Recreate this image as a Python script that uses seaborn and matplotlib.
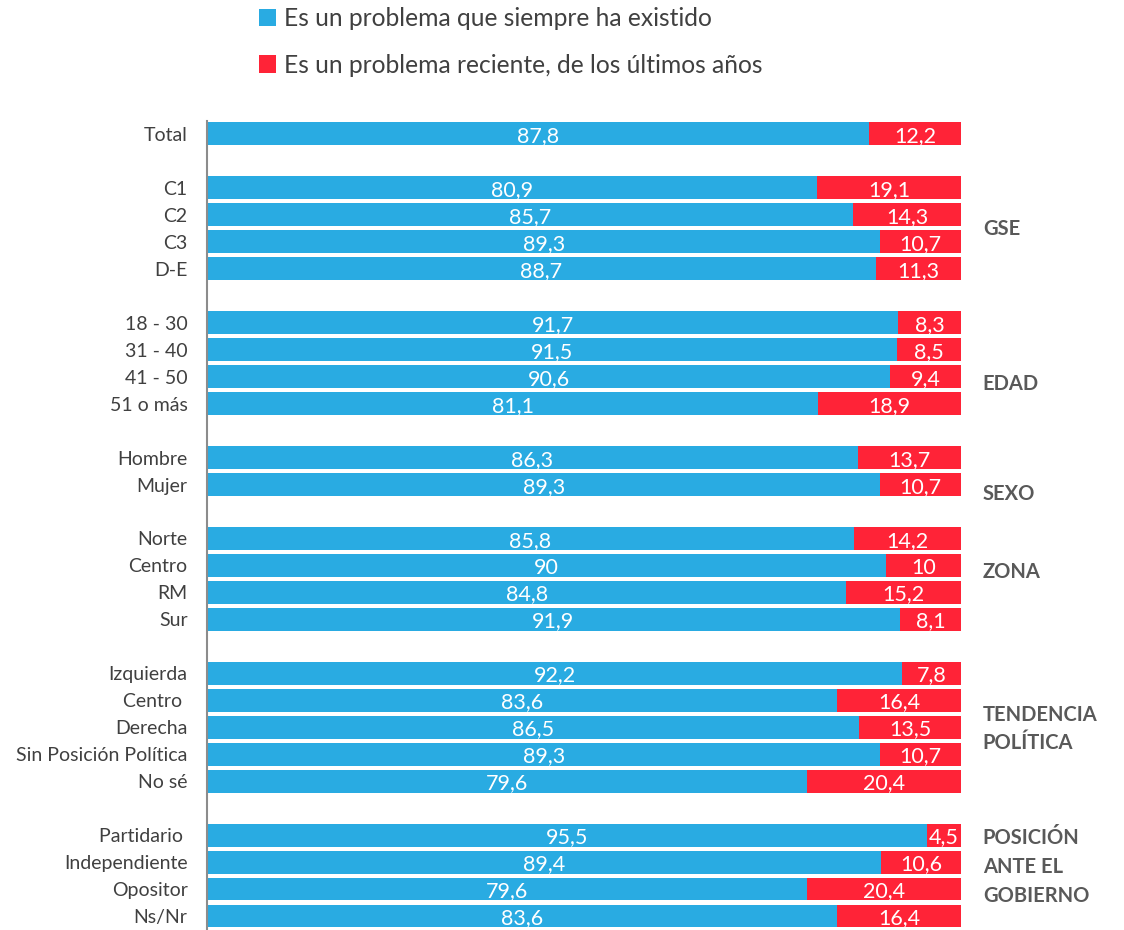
import matplotlib
matplotlib.use('Agg')
import matplotlib.pyplot as plt
import seaborn as sns
import pandas as pd
from matplotlib.patches import Patch

categories = ["Total", "C1", "C2", "C3", "D-E", "18 - 30", "31 - 40", "41 - 50", "51 o más",
              "Hombre", "Mujer", "Norte", "Centro", "RM", "Sur", "Izquierda", "Centro ",
              "Derecha", "Sin Posición Política", "No sé", "Partidario ", "Independiente",
              "Opositor", "Ns/Nr"]
groups = ["", "GSE", "GSE", "GSE", "GSE", "EDAD", "EDAD", "EDAD", "EDAD", "SEXO", "SEXO",
          "ZONA", "ZONA", "ZONA", "ZONA", "TENDENCIA\nPOLÍTICA", "TENDENCIA\nPOLÍTICA",
          "TENDENCIA\nPOLÍTICA", "TENDENCIA\nPOLÍTICA", "TENDENCIA\nPOLÍTICA",
          "POSICIÓN\nANTE EL\nGOBIERNO", "POSICIÓN\nANTE EL\nGOBIERNO",
          "POSICIÓN\nANTE EL\nGOBIERNO", "POSICIÓN\nANTE EL\nGOBIERNO"]
siempre = [87.8, 80.9, 85.7, 89.3, 88.7, 91.7, 91.5, 90.6, 81.1, 86.3, 89.3, 85.8, 90, 84.8,
           91.9, 92.2, 83.6, 86.5, 89.3, 79.6, 95.5, 89.4, 79.6, 83.6]
reciente = [12.2, 19.1, 14.3, 10.7, 11.3, 8.3, 8.5, 9.4, 18.9, 13.7, 10.7, 14.2, 10, 15.2,
            8.1, 7.8, 16.4, 13.5, 10.7, 20.4, 4.5, 10.6, 20.4, 16.4]
series_names = ["Es un problema que siempre ha existido",
                "Es un problema reciente, de los últimos años"]

BLUE = "#29ABE2"
RED = "#FF2337"
FONT = ["Lato", "DejaVu Sans"]

sns.set_style("white")
plt.rcParams['font.family'] = FONT

# slot positions with a blank row between groups
positions = []
p = 0
prev = None
for g in groups:
    if prev is not None and g != prev:
        p += 1
    positions.append(p)
    prev = g
    p += 1
n_slots = positions[-1] + 1

df = pd.DataFrame({"slot": positions, "cat": categories, "siempre": siempre,
                   "reciente": reciente})
df["total"] = df["siempre"] + df["reciente"]

fig = plt.figure(figsize=(11.24, 9.30), dpi=100)
ax = fig.add_axes([207 / 1124, 0.0, 754 / 1124, 1 - 121 / 930])

order = list(range(n_slots))
sns.barplot(data=df, x="total", y="slot", order=order, orient="h", color=RED,
            saturation=1, width=0.85, linewidth=0, ax=ax)
sns.barplot(data=df, x="siempre", y="slot", order=order, orient="h", color=BLUE,
            saturation=1, width=0.85, linewidth=0, ax=ax)

def fmt(v):
    if float(v).is_integer():
        return str(int(v))
    return f"{v:.1f}".replace(".", ",")

for _, r in df.iterrows():
    ax.text(r.siempre / 2, r.slot + 0.08, fmt(r.siempre), ha="center", va="center",
            color="white", fontsize=15.5)
    ax.text(r.siempre + r.reciente / 2, r.slot + 0.08, fmt(r.reciente), ha="center",
            va="center", color="white", fontsize=15.5)

# group labels
offsets = {"GSE": 0.02, "EDAD": 0.76, "SEXO": 0.87, "ZONA": -0.24,
           "TENDENCIA\nPOLÍTICA": 0.07, "POSICIÓN\nANTE EL\nGOBIERNO": -0.31}
for g, off in offsets.items():
    sl = [s for s, gg in zip(positions, groups) if gg == g]
    yc = (min(sl) + max(sl)) / 2 + off
    ax.text(102.9, yc, g, ha="left", va="center", fontsize=14.5, fontweight="bold",
            color="#595959", linespacing=1.55)

ax.set_xlim(0, 100)
ax.set_ylim(n_slots - 0.48, -0.48)
ax.set_yticks(positions, labels=categories)
ax.set_xticks([])
ax.set_xlabel("")
ax.set_ylabel("")
ax.tick_params(axis="y", length=0, pad=14, labelsize=14, labelcolor="#404040")
for s in ["top", "right", "bottom"]:
    ax.spines[s].set_visible(False)
ax.spines["left"].set_color("#8c8c8c")
ax.spines["left"].set_linewidth(1.5)

handles = [Patch(facecolor=BLUE, edgecolor="none"), Patch(facecolor=RED, edgecolor="none")]
fig.legend(handles, series_names, loc="upper left", bbox_to_anchor=(244 / 1124, 1.008),
           frameon=False, fontsize=17.7, handlelength=0.72, handleheight=0.72,
           handletextpad=0.3, labelspacing=0.95, borderpad=0.1, labelcolor="#404040")

fig.savefig("out.png", dpi=100)
